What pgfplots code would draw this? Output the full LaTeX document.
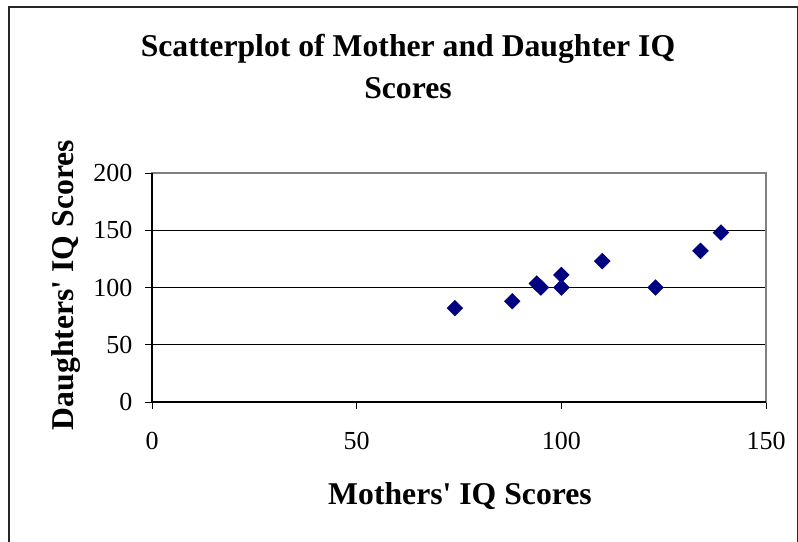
\documentclass[border=0pt]{standalone}
\usepackage{pgfplots}
\pgfplotsset{compat=1.18}
\usepackage{fontspec}
\setmainfont{Liberation Serif}[Ligatures=TeXOff]
\definecolor{navymark}{RGB}{0,0,128}
\begin{document}
\begin{tikzpicture}
\path[use as bounding box] (0,0) rectangle (798bp,-542bp);
\draw[line width=1.2bp, black!85] (9bp,-542bp) -- (9bp,-7bp) -- (797.4bp,-7bp) -- (797.4bp,-542bp);
\begin{axis}[
  at={(152bp,-402bp)}, anchor=south west,
  scale only axis, width=614bp, height=229bp,
  xmin=0, xmax=150, ymin=0, ymax=200,
  xtick={0,50,100,150}, ytick={0,50,100,150,200},
  ymajorgrids, grid style={black, line width=0.8bp},
  axis line style={gray, line width=1.2bp},
  tick style={black, line width=0.8bp},
  tick align=outside, major tick length=7bp,
  xtick pos=bottom, ytick pos=left,
  /pgf/number format/assume math mode=true,
  tick label style={font=\fontsize{26bp}{30bp}\selectfont},
  xticklabel style={yshift=-20bp},
  yticklabel style={xshift=-9bp},
  clip=false,
]
\addplot[only marks, mark=square*, mark size=5.6bp, mark options={rotate=45, fill=navymark, draw=navymark}]
 coordinates {(74,82) (88,88) (94,103.5) (95,100) (100,111) (100,100) (110,123) (123,100) (134,132) (139,148)};
\draw[black, line width=1.2bp] (rel axis cs:0,1) -- (rel axis cs:0,0) -- (rel axis cs:1,0);
\end{axis}
\node[anchor=base, font=\bfseries\fontsize{31.7bp}{38bp}\selectfont] at (408bp,-56bp) {Scatterplot of Mother and Daughter IQ};
\node[anchor=base, font=\bfseries\fontsize{31.7bp}{38bp}\selectfont] at (408bp,-98bp) {Scores};
\node[anchor=base, font=\bfseries\fontsize{31.7bp}{38bp}\selectfont] at (460bp,-504bp) {Mothers' IQ Scores};
\node[anchor=base, rotate=90, font=\bfseries\fontsize{31.7bp}{38bp}\selectfont] at (73bp,-285bp) {Daughters' IQ Scores};
\end{tikzpicture}
\end{document}
